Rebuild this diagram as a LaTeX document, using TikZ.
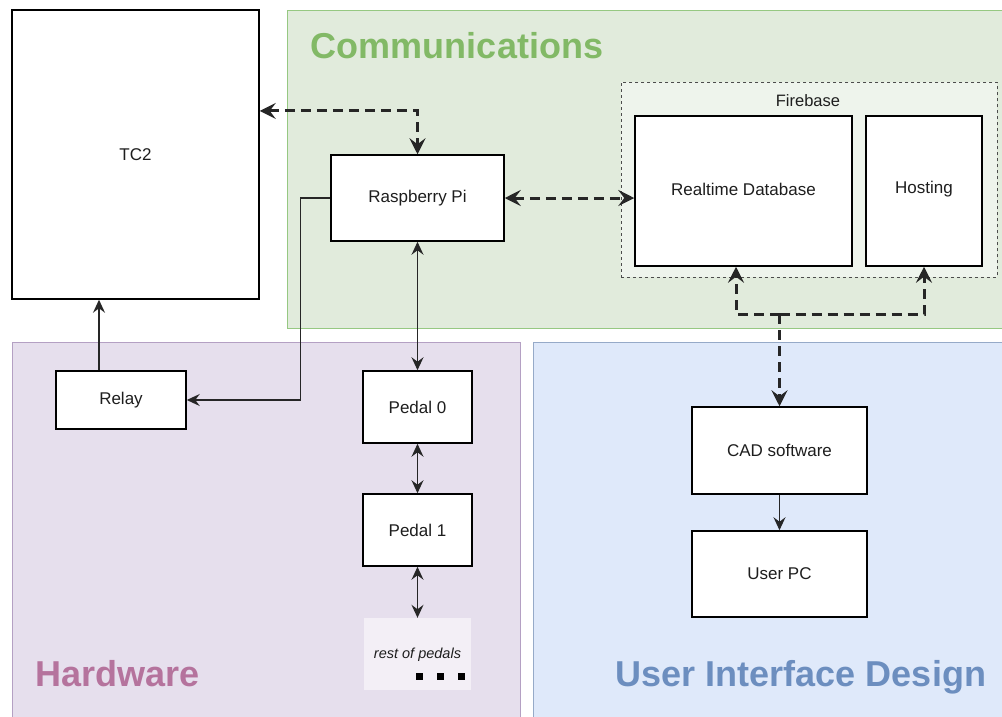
\documentclass[tikz,border=0pt]{standalone}
\usepackage{fontspec}
\setmainfont{Liberation Sans}
\usetikzlibrary{arrows.meta,calc}
\definecolor{commfill}{RGB}{225,235,220}
\definecolor{commline}{RGB}{150,200,130}
\definecolor{commtext}{RGB}{130,185,102}
\definecolor{hwfill}{RGB}{230,223,237}
\definecolor{hwline}{RGB}{180,160,195}
\definecolor{hwtext}{RGB}{181,115,157}
\definecolor{uifill}{RGB}{223,233,250}
\definecolor{uiline}{RGB}{150,170,200}
\definecolor{uitext}{RGB}{108,142,191}
\definecolor{fbfill}{RGB}{238,244,236}
\definecolor{restfill}{RGB}{243,239,246}
\definecolor{txt}{RGB}{30,30,30}
\tikzset{
  region/.style={draw, line width=0.8pt, inner sep=0pt, anchor=north west},
  box/.style={draw=black, fill=white, line width=1.5pt, inner sep=0pt, text=txt,
    font=\fontsize{17}{20}\selectfont},
  title/.style={font=\fontsize{36}{40}\selectfont\bfseries, anchor=base},
  thinarrow/.style={line width=1.4pt, draw=black!85},
  tip/.tip={Stealth[length=13pt,width=12pt,inset=4.5pt]},
  dasharrow/.style={line width=3pt, draw=black!85, dash pattern=on 10pt off 6pt},
  bigtip/.tip={Stealth[length=16pt,width=16pt,inset=6pt]}
}
\begin{document}
\begin{tikzpicture}[x=1pt,y=-1pt]
\useasboundingbox (0,0) rectangle (1002,716);
\fill[white] (0,0) rectangle (1002,716);

% regions
\node[region, draw=commline, fill=commfill, minimum width=725pt, minimum height=318pt] (comm) at (287,10) {};
\node[region, draw=hwline, fill=hwfill, minimum width=508pt, minimum height=380pt] (hw) at (12,342) {};
\node[region, draw=uiline, fill=uifill, minimum width=480pt, minimum height=380pt] (ui) at (533,342) {};

\node[title, text=commtext] (commtitle) at (457,58) {Communications};
\node[title, text=hwtext] (hwtitle) at (118,686) {Hardware};
\node[title, text=uitext] (uititle) at (801,686) {User Interface Design};

% Firebase container
\node[region, draw=black!70, dashed, line width=0.7pt, fill=fbfill, minimum width=376pt, minimum height=195pt] (fb) at (621,82) {};
\node[text=txt, font=\fontsize{16.5}{19}\selectfont] (fblabel) at (808,101) {Firebase};

% nodes
\node[box, minimum width=247pt, minimum height=289pt] (tc2) at (135.5,154.5) {TC2};
\node[box, minimum width=173pt, minimum height=86pt] (rpi) at (417.5,198) {Raspberry Pi};
\node[box, minimum width=217pt, minimum height=150pt] (rtdb) at (743.5,191) {};
\node[text=txt, font=\fontsize{17}{20}\selectfont] (rtdbtext) at (743.5,189) {Realtime Database};
\node[box, minimum width=116pt, minimum height=150pt] (host) at (924,191) {};
\node[text=txt, font=\fontsize{17}{20}\selectfont] (hosttext) at (924,189) {Hosting};
\node[box, minimum width=130pt, minimum height=58pt] (relay) at (121,400) {Relay};
\node[box, minimum width=109pt, minimum height=72pt] (p0) at (417.5,407) {Pedal 0};
\node[box, minimum width=109pt, minimum height=72pt] (p1) at (417.5,530) {Pedal 1};
\node[fill=restfill, minimum width=107pt, minimum height=72pt, inner sep=0pt] (rest) at (417.5,654) {};
\node[text=txt, font=\fontsize{14.5}{17}\itshape] (resttext) at (417.5,655) {rest of pedals};
\node[inner sep=0pt] (dots) at (440,676) {\rule{7pt}{7pt}\hspace{14pt}\rule{7pt}{7pt}\hspace{14pt}\rule{7pt}{7pt}};
\node[box, minimum width=175pt, minimum height=87pt] (cad) at (779.5,450.5) {CAD software};
\node[box, minimum width=175pt, minimum height=86pt] (pc) at (779.5,574) {User PC};

% dashed thick connectors
\draw[dasharrow, bigtip-bigtip] ($(tc2.north east)!0.35!(tc2.south east)$) -| (rpi.north);
\draw[dasharrow, bigtip-bigtip] (rpi.east) -- (rpi.east -| rtdb.west);
\coordinate (junc) at (779.5,314);
\draw[dasharrow, -bigtip] (junc) -| ([xshift=-7.5pt]rtdb.south);
\draw[dasharrow, -bigtip] (junc) -| (host.south);
\draw[dasharrow, -bigtip] (junc) -- (cad.north);

% thin connectors
\draw[thinarrow, -tip] (rpi.west) -- ++(-30,0) |- (relay.east);
\draw[thinarrow, -tip] ([xshift=-22pt]relay.north) -- ([xshift=-22pt]relay.north |- tc2.south);
\draw[thinarrow, tip-tip] (rpi.south) -- (p0.north);
\draw[thinarrow, tip-tip] (p0.south) -- (p1.north);
\draw[thinarrow, tip-tip] (p1.south) -- (rest.north);
\draw[thinarrow, -tip] (cad.south) -- (pc.north);
\end{tikzpicture}
\end{document}
